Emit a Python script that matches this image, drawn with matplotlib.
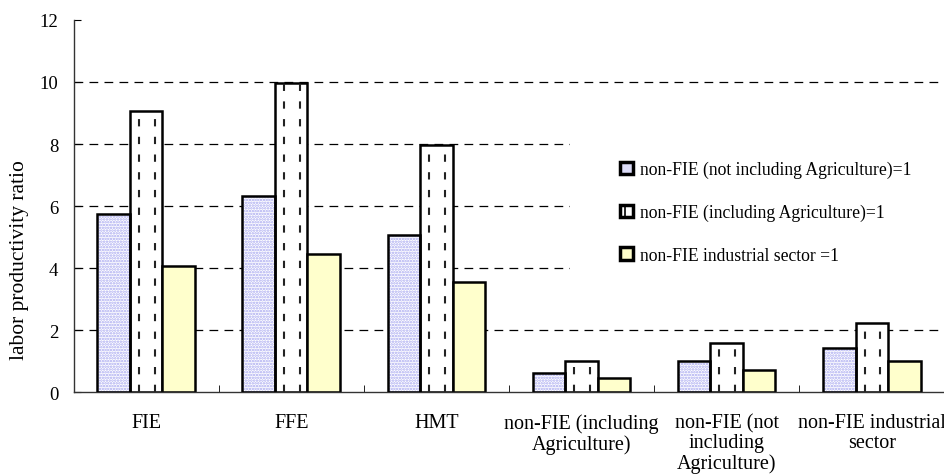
import numpy as np
import matplotlib
matplotlib.use('Agg')
import matplotlib.pyplot as plt
from matplotlib.patches import Patch, Rectangle

plt.rcParams['font.family'] = ['Liberation Serif', 'DejaVu Serif']
plt.rcParams['hatch.linewidth'] = 1.2

groups = ['FIE', 'FFE', 'HMT',
          'non-FIE (including\nAgriculture)',
          'non-FIE (not\nincluding\nAgriculture)',
          'non-FIE industrial\nsector']
series_names = ['non-FIE (not including Agriculture)=1',
                'non-FIE (including Agriculture)=1',
                'non-FIE industrial sector =1']
not_incl_agri = [5.75, 6.33, 5.05, 0.62, 1.0, 1.42]
incl_agri = [9.05, 9.97, 7.97, 1.0, 1.57, 2.22]
industrial = [4.05, 4.45, 3.55, 0.45, 0.7, 1.0]

x = np.arange(len(groups))
w = 0.224

fig = plt.figure(figsize=(9.45, 4.77), dpi=100)
ax = fig.add_axes([0.0778, 0.176, 0.9215, 0.78])

edge_lw = 1.8

# blue dotted bars: dotted fill first, outline on top
ax.bar(x - w, not_incl_agri, w, facecolor='white', edgecolor='#a8a8f0',
       hatch='......', linewidth=0, zorder=2)
ax.bar(x - w, not_incl_agri, w, facecolor='none', edgecolor='black',
       linewidth=edge_lw, zorder=3)

# white bars with dashed vertical strokes
ax.bar(x, incl_agri, w, facecolor='white', edgecolor='black',
       linewidth=edge_lw, zorder=2)
for xi, h in zip(x, incl_agri):
    ax.vlines([xi - w * 0.22, xi + w * 0.26], 0, h, colors='#222222',
              linestyles=(0, (3.5, 5)), linewidth=1.5, zorder=2.5)

ax.bar(x + w, industrial, w, facecolor='#ffffcc', edgecolor='black',
       linewidth=edge_lw, zorder=2)

ax.set_xlim(-0.5, len(groups) - 0.5)
ax.set_ylim(0, 12)
ax.set_yticks(np.arange(0, 13, 2))
ax.tick_params(axis='y', direction='in', length=5, pad=11, labelsize=13.5)

ax.set_xticks(x)
ax.set_xticklabels(groups, fontsize=14.5, linespacing=1.08)
ax.tick_params(axis='x', which='major', length=0, pad=15)
ax.set_xticks(np.arange(0.5, len(groups) - 0.5, 1), minor=True)
ax.tick_params(axis='x', which='minor', direction='in', length=5)

for v in np.arange(2, 12, 2):
    ax.axhline(v, color='black', linestyle=(0, (7, 5)), linewidth=0.9,
               zorder=0.5)

ax.spines['top'].set_visible(False)
ax.spines['right'].set_visible(False)
for s in ('left', 'bottom'):
    ax.spines[s].set_linewidth(1.0)
    ax.spines[s].set_color('#333333')

ax.set_ylabel('labor productivity ratio', fontsize=15.5)
ax.yaxis.set_label_coords(-0.051, 0.357)

# white panel behind the legend
ax.add_patch(Rectangle((0.57, 0.25), 0.43, 0.49, transform=ax.transAxes,
                       facecolor='white', edgecolor='none', zorder=1))

handles = [
    Patch(facecolor='#dcdcf8', edgecolor='black', linewidth=2.5),
    Patch(facecolor='white', edgecolor='black', linewidth=2.5, hatch='|'),
    Patch(facecolor='#ffffcc', edgecolor='black', linewidth=2.5),
]
leg = ax.legend(handles, series_names, loc='upper left',
                bbox_to_anchor=(0.62, 0.64), frameon=False, fontsize=12.7,
                handlelength=0.7, handleheight=0.7, handletextpad=0.4,
                labelspacing=1.45, borderaxespad=0)
leg.set_zorder(4)

fig.savefig('out.png', dpi=100)
